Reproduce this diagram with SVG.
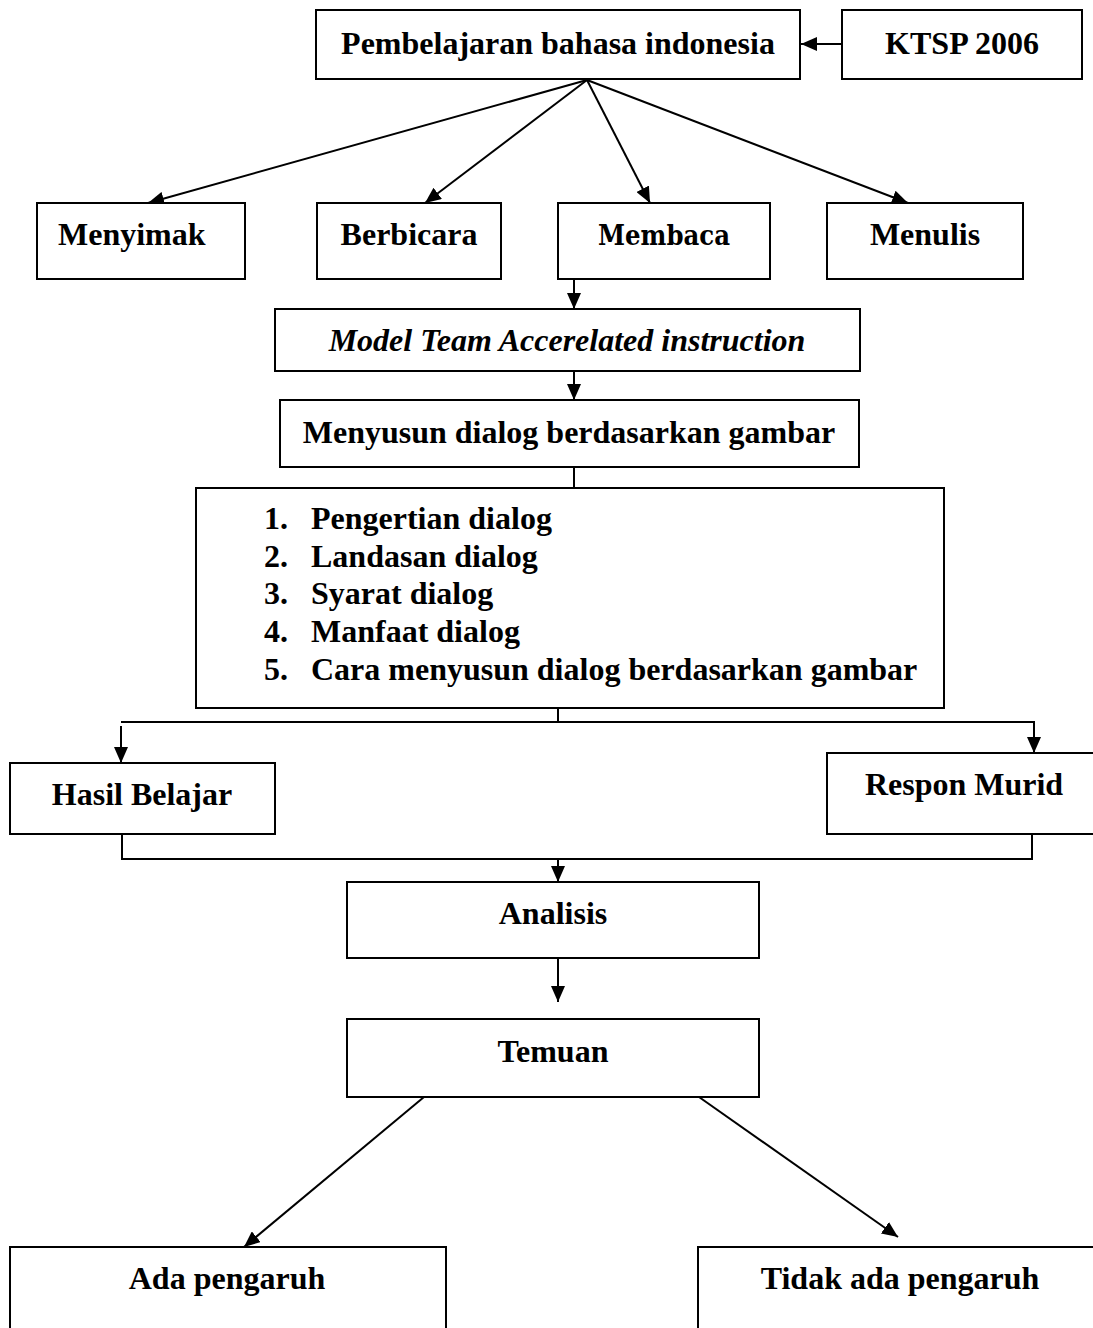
<svg xmlns="http://www.w3.org/2000/svg" width="1093" height="1328" viewBox="0 0 1093 1328">
<style>
.box{fill:#fff;stroke:#000;stroke-width:2}
.t{font-family:"Liberation Serif","Times New Roman",serif;font-weight:bold;font-size:32px;fill:#000}
.c{text-anchor:middle}
.ln{fill:none;stroke:#000;stroke-width:2}
</style>
<defs>
<marker id="ahb" markerWidth="16" markerHeight="14" refX="16" refY="7" orient="auto" markerUnits="userSpaceOnUse" viewBox="0 0 16 14">
<path d="M0,0 L16,7 L0,14 Z" fill="#000"/>
</marker>
</defs>
<rect width="1093" height="1328" fill="#fff"/>

<g id="connectors">
<line class="ln" x1="842" y1="44" x2="801" y2="44" marker-end="url(#ahb)"/>
<line class="ln" x1="587" y1="80" x2="148" y2="203" marker-end="url(#ahb)"/>
<line class="ln" x1="587" y1="80" x2="425" y2="203" marker-end="url(#ahb)"/>
<line class="ln" x1="587" y1="80" x2="650" y2="203" marker-end="url(#ahb)"/>
<line class="ln" x1="587" y1="80" x2="908" y2="203" marker-end="url(#ahb)"/>
<line class="ln" x1="574" y1="279" x2="574" y2="309" marker-end="url(#ahb)"/>
<line class="ln" x1="574" y1="371" x2="574" y2="400" marker-end="url(#ahb)"/>
<line class="ln" x1="574" y1="467" x2="574" y2="495"/>
<line class="ln" x1="558" y1="708" x2="558" y2="722"/>
<line class="ln" x1="121" y1="722" x2="1035" y2="722"/>
<line class="ln" x1="121" y1="726" x2="121" y2="763" marker-end="url(#ahb)"/>
<line class="ln" x1="1034" y1="722" x2="1034" y2="753" marker-end="url(#ahb)"/>
<polyline class="ln" points="122,834 122,859 1032,859 1032,834"/>
<line class="ln" x1="558" y1="859" x2="558" y2="882" marker-end="url(#ahb)"/>
<line class="ln" x1="558" y1="958" x2="558" y2="1002" marker-end="url(#ahb)"/>
<line class="ln" x1="424" y1="1097" x2="244" y2="1247" marker-end="url(#ahb)"/>
<line class="ln" x1="699" y1="1097" x2="898" y2="1237" marker-end="url(#ahb)"/>
</g>

<g id="pembelajaran">
<rect class="box" x="316" y="10" width="484" height="69"/>
<text class="t c" x="558" y="54">Pembelajaran bahasa indonesia</text>
</g>
<g id="ktsp">
<rect class="box" x="842" y="10" width="240" height="69"/>
<text class="t c" x="962" y="54">KTSP 2006</text>
</g>

<g id="menyimak">
<rect class="box" x="37" y="203" width="208" height="76"/>
<text class="t" x="58" y="245">Menyimak</text>
</g>
<g id="berbicara">
<rect class="box" x="317" y="203" width="184" height="76"/>
<text class="t c" x="409" y="245">Berbicara</text>
</g>
<g id="membaca">
<rect class="box" x="558" y="203" width="212" height="76"/>
<text x="598" y="245" font-family="'DejaVu Serif',serif" font-weight="bold" font-size="28" textLength="132" lengthAdjust="spacingAndGlyphs">Membaca</text>
</g>
<g id="menulis">
<rect class="box" x="827" y="203" width="196" height="76"/>
<text class="t c" x="925" y="245">Menulis</text>
</g>

<g id="model">
<rect class="box" x="275" y="309" width="585" height="62"/>
<text class="t c" x="567" y="351" font-style="italic">Model Team Accerelated instruction</text>
</g>
<g id="menyusun">
<rect class="box" x="280" y="400" width="579" height="67"/>
<text class="t c" x="569" y="443">Menyusun dialog berdasarkan gambar</text>
</g>

<g id="materi">
<rect class="box" x="196" y="488" width="748" height="220"/>
<text class="t"><tspan x="264" y="529">1.</tspan><tspan x="311" y="529">Pengertian dialog</tspan></text>
<text class="t"><tspan x="264" y="567">2.</tspan><tspan x="311" y="567">Landasan dialog</tspan></text>
<text class="t"><tspan x="264" y="604">3.</tspan><tspan x="311" y="604">Syarat dialog</tspan></text>
<text class="t"><tspan x="264" y="642">4.</tspan><tspan x="311" y="642">Manfaat dialog</tspan></text>
<text class="t"><tspan x="264" y="680">5.</tspan><tspan x="311" y="680">Cara menyusun dialog berdasarkan gambar</tspan></text>
</g>

<g id="hasil">
<rect class="box" x="10" y="763" width="265" height="71"/>
<text class="t c" x="142" y="805">Hasil Belajar</text>
</g>
<g id="respon">
<rect class="box" x="827" y="753" width="280" height="81"/>
<text class="t c" x="964" y="795">Respon Murid</text>
</g>

<g id="analisis">
<rect class="box" x="347" y="882" width="412" height="76"/>
<text class="t c" x="553" y="924">Analisis</text>
</g>
<g id="temuan">
<rect class="box" x="347" y="1019" width="412" height="78"/>
<text class="t c" x="553" y="1062">Temuan</text>
</g>

<g id="ada">
<rect class="box" x="10" y="1247" width="436" height="100"/>
<text class="t c" x="227" y="1289">Ada pengaruh</text>
</g>
<g id="tidak">
<rect class="box" x="698" y="1247" width="410" height="100"/>
<text class="t c" x="900" y="1289">Tidak ada pengaruh</text>
</g>
</svg>
